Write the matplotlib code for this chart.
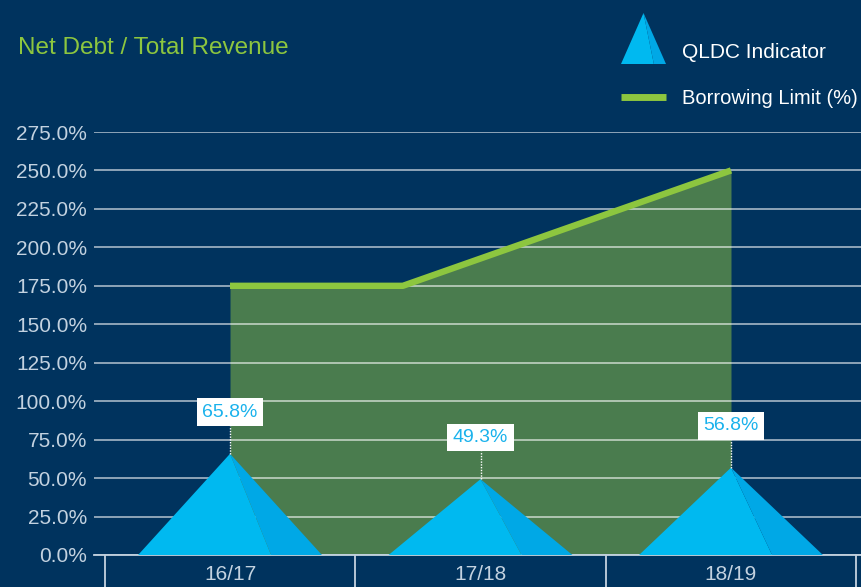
import numpy as np
import matplotlib
matplotlib.use("Agg")
import matplotlib.pyplot as plt
from matplotlib.patches import Polygon
from matplotlib.lines import Line2D

# data
years = ["16/17", "17/18", "18/19"]
qldc = [65.8, 49.3, 56.8]
limit_x = [0.0, 0.69, 2.0]      # borrowing limit kinks (category units)
limit_vals = [175.0, 175.0, 250.0]
yticks = np.arange(0, 276, 25)

BG = "#00335e"
GREEN = "#8dc63f"
FILL = "#4a7c4e"
TRI_LIGHT = "#00b9f0"
TRI_DARK = "#00a8e6"
LABEL_BLUE = "#1ab2ec"
TICK_COL = "#c3d2e0"
FONT = ["Liberation Sans", "DejaVu Sans"]

HALF_W = 0.367   # half base width of pyramids
SPLIT = 0.164    # where the shaded face meets the base

fig = plt.figure(figsize=(8.61, 5.87), dpi=100, facecolor=BG)
ax = fig.add_axes([94 / 861, 32 / 587, 767 / 861, 423 / 587])
ax.set_facecolor(BG)
ax.set_xlim(-0.543, 2.519)
ax.set_ylim(0, 275)

# borrowing limit area + line
ax.fill_between(limit_x, 0, limit_vals, color=FILL, zorder=1, linewidth=0)

# gridlines
for v in yticks:
    ax.axhline(v, color="white", alpha=0.6, lw=1.3, zorder=2)

ax.plot(limit_x, limit_vals, color=GREEN, lw=4.6, solid_capstyle="butt", zorder=3)

# pyramids
for i, val in enumerate(qldc):
    ax.add_patch(Polygon([(i - HALF_W, 0), (i, val), (i + SPLIT, 0)],
                         closed=True, color=TRI_LIGHT, lw=0, zorder=4))
    ax.add_patch(Polygon([(i + SPLIT, 0), (i, val), (i + HALF_W, 0)],
                         closed=True, color=TRI_DARK, lw=0, zorder=4))
    ax.plot([i, i], [val, val + 18], color="white", lw=1, ls=(0, (1, 1)), zorder=5)
    ax.annotate(f"{val:.1f}%", (i, val), xytext=(0, 30), textcoords="offset points",
                ha="center", va="center", fontsize=14, color=LABEL_BLUE,
                family=FONT, zorder=6,
                bbox=dict(boxstyle="square,pad=0.28", fc="white", ec="none"))

# axes styling
for s in ["top", "right", "left"]:
    ax.spines[s].set_visible(False)
ax.spines["bottom"].set_color(TICK_COL)
ax.spines["bottom"].set_linewidth(1.3)
ax.spines["bottom"].set_zorder(3)

ax.set_yticks(yticks)
ax.set_yticklabels([f"{v:.1f}%" for v in yticks], family=FONT, fontsize=15, color=TICK_COL)
ax.tick_params(axis="y", length=0, pad=5)

ax.set_xticks(range(len(years)))
ax.set_xticklabels(years, family=FONT, fontsize=15, color=TICK_COL)
ax.tick_params(axis="x", length=0, pad=7)
ax.set_xticks(np.arange(-0.5, len(years)), minor=True)
ax.tick_params(axis="x", which="minor", length=24, width=1.3, color=TICK_COL)

# title
fig.text(18 / 861, 1 - 48 / 587, "Net Debt / Total Revenue", color=GREEN,
         fontsize=17.5, family=FONT, va="center", ha="left")

# legend, drawn by hand
tri_ax = fig.add_axes([621 / 861, 1 - 64 / 587, 45 / 861, 51 / 587])
tri_ax.set_xlim(0, 1)
tri_ax.set_ylim(0, 1)
tri_ax.axis("off")
tri_ax.add_patch(Polygon([(0, 0), (0.5, 1), (0.73, 0)], color=TRI_LIGHT, lw=0))
tri_ax.add_patch(Polygon([(0.73, 0), (0.5, 1), (1, 0)], color=TRI_DARK, lw=0))
fig.text(682 / 861, 1 - 52 / 587, "QLDC Indicator", color="white", fontsize=15,
         family=FONT, va="center", ha="left")
fig.add_artist(Line2D([621 / 861, 666 / 861], [1 - 97 / 587, 1 - 97 / 587],
                      color=GREEN, lw=5, solid_capstyle="butt"))
fig.text(682 / 861, 1 - 98 / 587, "Borrowing Limit (%)", color="white", fontsize=14.5,
         family=FONT, va="center", ha="left")

fig.savefig("out.png", dpi=100, facecolor=BG)
